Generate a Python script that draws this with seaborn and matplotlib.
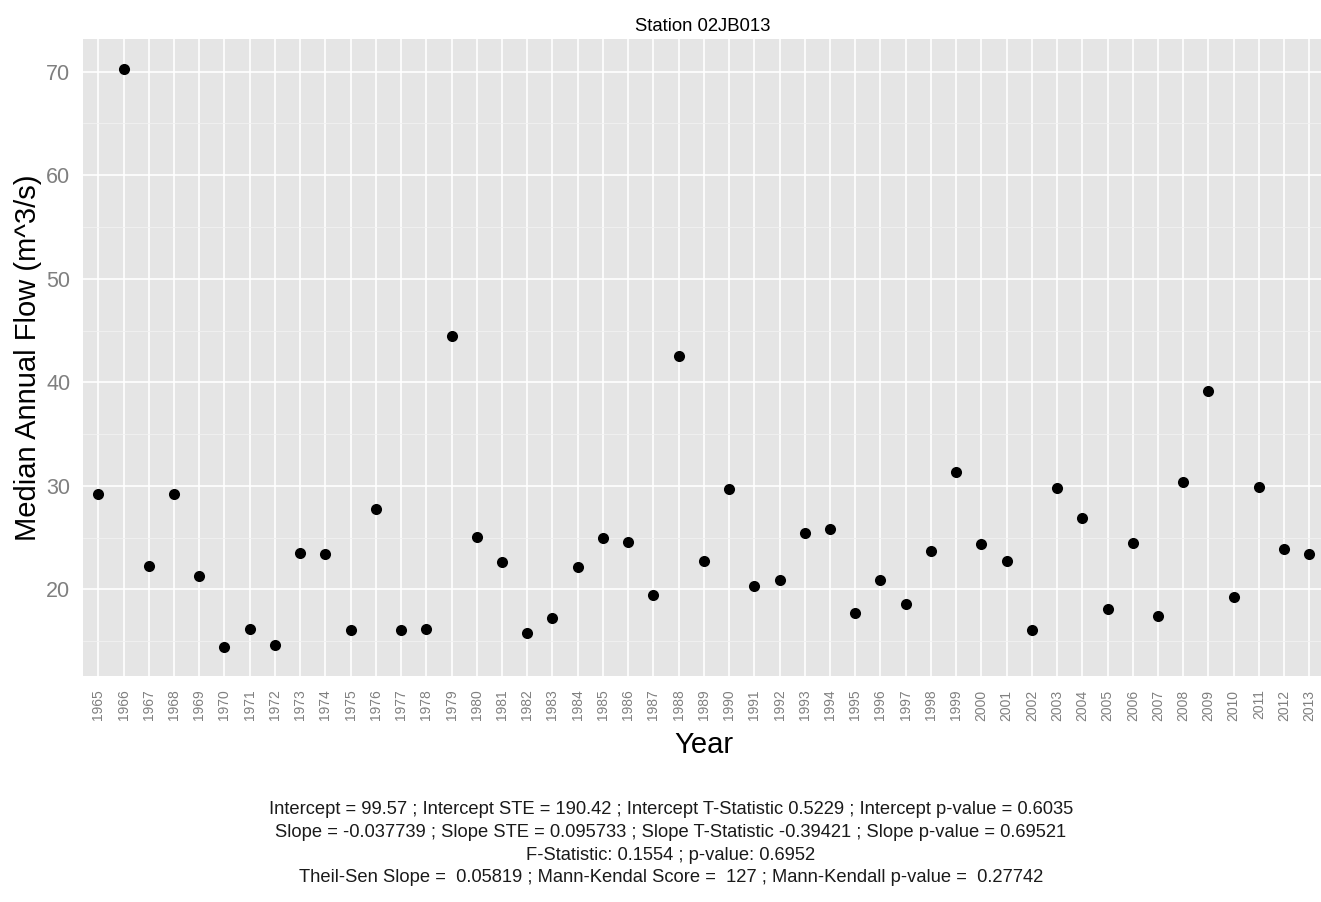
import matplotlib
matplotlib.use("Agg")
import matplotlib.pyplot as plt
from matplotlib.ticker import MultipleLocator
import seaborn as sns
import pandas as pd

# Median annual flow per year at the station
years = list(range(1965, 2014))
flow = [29.2, 70.3, 22.3, 29.2, 21.3, 14.4, 16.2, 14.6, 23.5, 23.4,
        16.1, 27.8, 16.1, 16.2, 44.5, 25.1, 22.6, 15.8, 17.2, 22.2,
        25.0, 24.6, 19.5, 42.5, 22.7, 29.7, 20.3, 20.9, 25.4, 25.8,
        17.7, 20.9, 18.6, 23.7, 31.3, 24.4, 22.7, 16.1, 29.8, 26.9,
        18.1, 24.5, 17.4, 30.4, 39.2, 19.3, 29.9, 23.9, 23.4]
year_labels = [str(y) for y in years]

station = "Station 02JB013"
x_title = "Year"
y_title = "Median Annual Flow (m^3/s)"
y_ticks = [20, 30, 40, 50, 60, 70]
stats_lines = [
    "Intercept = 99.57 ; Intercept STE = 190.42 ; Intercept T-Statistic 0.5229 ; Intercept p-value = 0.6035",
    "Slope = -0.037739 ; Slope STE = 0.095733 ; Slope T-Statistic -0.39421 ; Slope p-value = 0.69521",
    "F-Statistic: 0.1554 ; p-value: 0.6952",
    "Theil-Sen Slope =  0.05819 ; Mann-Kendal Score =  127 ; Mann-Kendall p-value =  0.27742",
]

df = pd.DataFrame({"Year": year_labels, "Flow": flow})

sns.set_style("white")
plt.rcParams["font.family"] = ["Liberation Sans", "DejaVu Sans"]

W, H = 1321, 902
fig = plt.figure(figsize=(W / 100, H / 100), dpi=100)
fig.patch.set_facecolor("white")

left, right, top, bottom = 82.7, 1324.5, 39.0, 675.7
ax = fig.add_axes([left / W, 1 - bottom / H, (right - left) / W, (bottom - top) / H])
ax.set_facecolor("#E5E5E5")

sns.stripplot(data=df, x="Year", y="Flow", order=year_labels, jitter=False,
              color="black", size=8, linewidth=0, ax=ax, zorder=3)

ax.set_xlim(-0.62, len(years) - 1 + 0.6)
ax.set_ylim(11.66, 73.16)
ax.set_yticks(y_ticks)
ax.yaxis.set_minor_locator(MultipleLocator(5))

ax.grid(which="major", color="white", linewidth=1.2, zorder=0)
ax.grid(which="minor", axis="y", color="#F2F2F2", linewidth=0.6, zorder=0)
ax.set_axisbelow(True)
for s in ax.spines.values():
    s.set_visible(False)

ax.tick_params(axis="both", which="major", direction="out", length=5,
               width=0.8, color="#7F7F7F", labelcolor="#7F7F7F")
ax.tick_params(axis="y", which="major", labelsize=15.5, pad=4)
ax.tick_params(axis="x", which="major", labelsize=10, pad=5, labelrotation=90)
ax.tick_params(which="minor", length=0)

ax.set_xlabel(x_title, fontsize=21, color="black")
ax.xaxis.label.set_va("center")
ax.xaxis.set_label_coords(0.5, (bottom - 745) / (bottom - top))
ax.set_ylabel(y_title, fontsize=21, color="black")
ax.yaxis.label.set_va("center")
ax.yaxis.set_label_coords((28 - left) / (right - left), 0.5)

fig.text(702.5 / W, 1 - 26.5 / H, station, ha="center", va="center",
         fontsize=13.3, color="black")

for i, line in enumerate(stats_lines):
    fig.text(671 / W, 1 - (810 + i * 22.5) / H, line, ha="center", va="center",
             fontsize=13.2, color="#1A1A1A")

fig.savefig("out.png", dpi=100)
